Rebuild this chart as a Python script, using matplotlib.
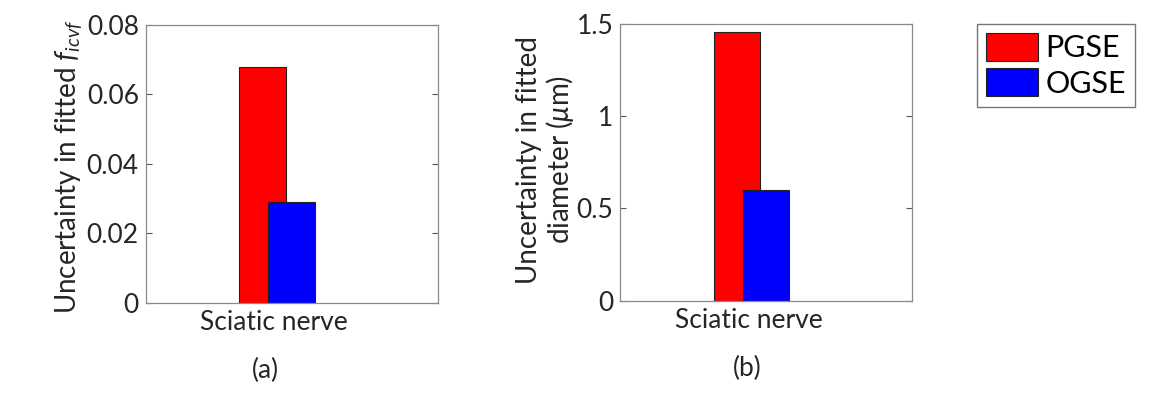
import matplotlib
matplotlib.use("Agg")
from matplotlib import pyplot as plt
from matplotlib.patches import Patch

plt.rcParams['font.family'] = ['Lato', 'DejaVu Sans']
plt.rcParams['mathtext.fontset'] = 'custom'
plt.rcParams['mathtext.it'] = 'Lato:italic'
plt.rcParams['mathtext.rm'] = 'Lato'

category = ['Sciatic nerve']
methods = ['PGSE', 'OGSE']
colors = ['#ff0000', '#0000ff']
icvf_unc = [0.068, 0.029]
diam_unc = [1.455, 0.600]

W, H = 1156, 395
fig = plt.figure(figsize=(W/100, H/100), dpi=100)

def panel(rect, vals, ylim, yticks, yticklabels, ylabel, ylab_xy, tag, tag_x):
    ax = fig.add_axes(rect)
    xs = [0.40, 0.50]
    for x, v, c in zip(xs, vals, colors):
        ax.bar(x, v, width=0.16, color=c, edgecolor='#222222', linewidth=0.8)
    ax.set_xlim(0, 1)
    ax.set_ylim(*ylim)
    ax.set_xticks([0.44])
    ax.set_xticklabels(category, fontsize=19, color='#262626')
    ax.set_yticks(yticks)
    ax.set_yticklabels(yticklabels, fontsize=19, color='#262626')
    ax.tick_params(axis='x', length=0, pad=5)
    ax.tick_params(axis='y', direction='in', length=4, right=True, color='#555555', pad=5)
    for s in ax.spines.values():
        s.set_color('#8a8a8a')
        s.set_linewidth(0.9)
    ax.set_ylabel(ylabel, fontsize=20, color='#262626', linespacing=1.1, va='center')
    ax.yaxis.set_label_coords(*ylab_xy)
    ax.text(tag_x, -0.2, tag, transform=ax.transAxes, ha='center', va='top', fontsize=19, color='#262626')
    return ax

panel([145.7/W, (H-302.7)/H, 292.3/W, 277.7/H], icvf_unc, (0, 0.08),
      [0, 0.02, 0.04, 0.06, 0.08], ['0', '0.02', '0.04', '0.06', '0.08'],
      'Uncertainty in fitted $f_{icvf}$', (-0.262, 0.49), '(a)', 0.41)
panel([620.3/W, (H-300.7)/H, 291.4/W, 276.7/H], diam_unc, (0, 1.5),
      [0, 0.5, 1, 1.5], ['0', '0.5', '1', '1.5'],
      'Uncertainty in fitted\ndiameter ($\\mu$m)', (-0.255, 0.51), '(b)', 0.434)

handles = [Patch(facecolor=c, edgecolor='#222222', linewidth=0.8, label=m) for m, c in zip(methods, colors)]
fig.legend(handles=handles, loc='upper left', bbox_to_anchor=(976.7/W, 1-24/H),
           fontsize=22, frameon=True, fancybox=False, edgecolor='#555555',
           handlelength=1.7, handleheight=1.0, handletextpad=0.25,
           labelspacing=0.2, borderpad=0.3, borderaxespad=0)

fig.savefig('out.png', dpi=100)
